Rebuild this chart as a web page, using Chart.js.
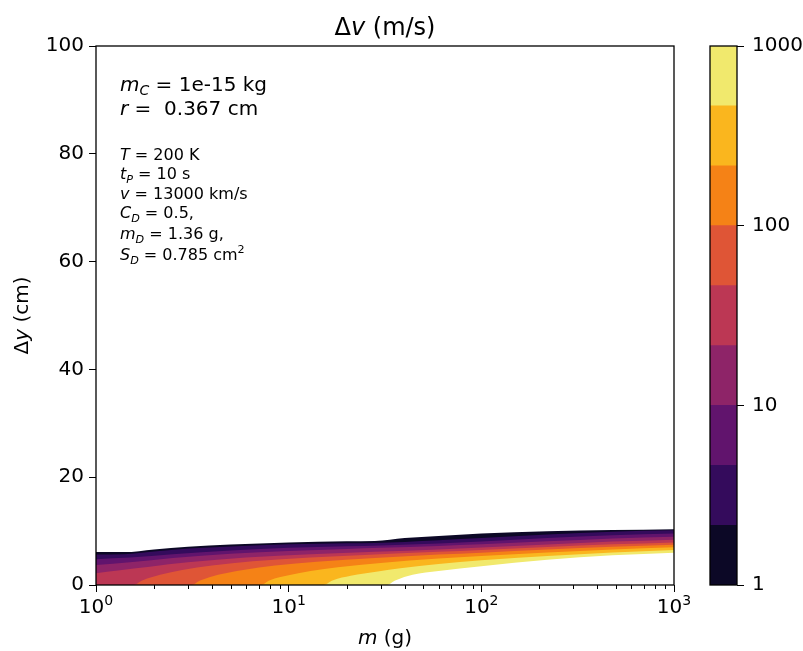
<!DOCTYPE html>
<html>
<head>
<meta charset="utf-8">
<script src="https://cdn.jsdelivr.net/npm/chart.js@4/dist/chart.umd.min.js"></script>
<style>
  body { margin: 0; background: #fff; }
  #wrap { position: relative; width: 803px; height: 651px; }
  #wrap canvas { position: absolute; top: 0; }
</style>
</head>
<body>
<div id="wrap">
  <canvas id="dvMap" width="700" height="651" style="left:0"></canvas>
  <canvas id="dvBar" width="103" height="651" style="left:700px"></canvas>
</div>
<script>
// contour levels of delta-v (m/s), three per decade
const levels = [1, 2.15, 4.64, 10, 21.5, 46.4, 100, 215, 464, 1000];
const bandColors = ['#0c0826', '#340b5c', '#61146d', '#8e2468', '#bc3754',
                    '#df5536', '#f58216', '#fab61e', '#f1e96d'];
const cbarTicks = [1, 10, 100, 1000];
const massTicks = [1, 10, 100, 1000];
const massExponents = ['0', '1', '2', '3'];

// contour lines: [m (g), dy (cm)] for each level
const dv1    = [[1,6.1],[1.4,6.1],[2,6.6],[3,7.1],[5,7.5],[10,7.9],[20,8.1],[28,8.15],[40,8.7],[60,9.1],[100,9.55],[220,9.95],[480,10.2],[1000,10.35]];
const dv2    = [[1,5.65],[1.4,5.7],[2,6.2],[3,6.75],[5,7.15],[10,7.55],[20,7.75],[28,7.8],[40,8.0],[60,8.3],[100,8.7],[220,9.35],[480,9.9],[1000,10.15]];
const dv5    = [[1,4.8],[1.5,5.1],[2.5,5.7],[5,6.4],[10,6.9],[20,7.2],[30,7.35],[60,7.7],[100,8.05],[220,8.7],[480,9.25],[1000,9.55]];
const dv10   = [[1,3.7],[1.5,4.2],[2.5,5.0],[5,5.8],[10,6.3],[20,6.7],[30,6.9],[60,7.25],[100,7.55],[220,8.1],[480,8.65],[1000,8.95]];
const dv22   = [[1,2.2],[1.3,2.7],[1.9,3.4],[3,4.2],[6,5.1],[13,5.7],[28,6.15],[60,6.6],[100,6.95],[220,7.5],[480,8.05],[1000,8.4]];
const dv46   = [[1,0],[1.55,0],[1.75,0.9],[2.15,1.9],[2.8,2.8],[4,3.6],[6.5,4.4],[13,5.1],[28,5.65],[60,6.15],[100,6.5],[220,7.05],[480,7.55],[1000,7.9]];
const dv100  = [[1,0],[3.1,0],[3.5,0.9],[4.3,1.9],[5.8,2.8],[8.5,3.6],[14,4.3],[28,5.0],[60,5.65],[100,6.0],[220,6.6],[480,7.1],[1000,7.45]];
const dv215  = [[1,0],[7.1,0],[8,0.9],[10,1.8],[13,2.6],[18,3.3],[30,4.1],[60,4.9],[100,5.4],[220,6.05],[480,6.6],[1000,7.0]];
const dv464  = [[1,0],[15,0],[17,0.9],[21,1.7],[29,2.5],[38,3.1],[60,3.9],[100,4.6],[220,5.4],[480,6.05],[1000,6.5]];
const dv1000 = [[1,0],[32,0],[36,0.9],[44,1.9],[60,2.6],[100,3.5],[220,4.7],[480,5.5],[1000,6.0]];

const contours = [dv1, dv2, dv5, dv10, dv22, dv46, dv100, dv215, dv464, dv1000];

const FAM = '"DejaVu Sans", sans-serif';

// draws a run of text pieces: '' plain, 'i' italic, 'isub' italic subscript, 'sup' superscript
function richText(ctx, runs, x, y, size, align) {
  const fontFor = k => {
    const small = k.includes('sub') || k.includes('sup');
    return (k.startsWith('i') ? 'italic ' : '') + (small ? size * 0.7 : size) + 'px ' + FAM;
  };
  let w = 0;
  for (const [t, k] of runs) { ctx.font = fontFor(k); w += ctx.measureText(t).width; }
  let cx = align === 'center' ? x - w / 2 : x;
  ctx.textAlign = 'left';
  ctx.textBaseline = 'alphabetic';
  ctx.fillStyle = '#000';
  for (const [t, k] of runs) {
    ctx.font = fontFor(k);
    let dy = 0;
    if (k.includes('sub')) dy = size * 0.22;
    if (k.includes('sup')) dy = -size * 0.42;
    ctx.fillText(t, cx, y + dy);
    cx += ctx.measureText(t).width;
  }
}

const notes = [
  { size: 20, y: 91,  runs: [['m','i'],['C','isub'],[' = 1e-15 kg','']] },
  { size: 20, y: 115, runs: [['r','i'],[' =  0.367 cm','']] },
  { size: 16, y: 159.5, runs: [['T','i'],[' = 200 K','']] },
  { size: 16, y: 179, runs: [['t','i'],['P','isub'],[' = 10 s','']] },
  { size: 16, y: 198.5, runs: [['v','i'],[' = 13000 km/s','']] },
  { size: 16, y: 218, runs: [['C','i'],['D','isub'],[' = 0.5,','']] },
  { size: 16, y: 239, runs: [['m','i'],['D','isub'],[' = 1.36 g,','']] },
  { size: 16, y: 260, runs: [['S','i'],['D','isub'],[' = 0.785 cm',''],['2','sup']] }
];

const mapDecor = {
  id: 'mapDecor',
  afterDatasetsDraw(chart) {
    const { ctx, chartArea: a } = chart;
    ctx.save();
    ctx.strokeStyle = '#000';
    ctx.lineWidth = 1.3;
    ctx.strokeRect(a.left, a.top, a.right - a.left, a.bottom - a.top);
    ctx.restore();
  },
  afterDraw(chart) {
    const { ctx, chartArea: a } = chart;
    const xs = chart.scales.x;
    ctx.save();
    // minor ticks on the log axis
    ctx.strokeStyle = '#000';
    ctx.lineWidth = 1;
    for (const d of [1, 10, 100]) {
      for (let k = 2; k <= 9; k++) {
        const px = Math.round(xs.getPixelForValue(k * d)) + 0.5;
        ctx.beginPath();
        ctx.moveTo(px, a.bottom);
        ctx.lineTo(px, a.bottom + 4);
        ctx.stroke();
      }
    }
    // power-of-ten labels with raised exponents
    massTicks.forEach((v, i) => {
      richText(ctx, [['10',''],[massExponents[i],'sup']], xs.getPixelForValue(v), 613, 20, 'center');
    });
    richText(ctx, [['\u0394',''],['v','i'],[' (m/s)','']], (a.left + a.right) / 2, 35, 24, 'center');
    richText(ctx, [['m','i'],[' (g)','']], (a.left + a.right) / 2, 644, 20, 'center');
    ctx.save();
    ctx.translate(28, (a.top + a.bottom) / 2);
    ctx.rotate(-Math.PI / 2);
    richText(ctx, [['\u0394',''],['y','i'],[' (cm)','']], 0, 0, 20, 'center');
    ctx.restore();
    for (const n of notes) richText(ctx, n.runs, 120, n.y, n.size, 'left');
    ctx.restore();
  }
};

// each band is filled down to zero from its upper contour; the lowest one paints white
const datasets = contours.map((c, i) => ({
  data: c.map(([m, dy]) => ({ x: m, y: dy })),
  backgroundColor: i < bandColors.length ? bandColors[i] : '#ffffff',
  borderWidth: 0,
  borderColor: 'rgba(0,0,0,0)',
  pointRadius: 0,
  fill: 'origin',
  cubicInterpolationMode: 'monotone',
  order: contours.length - i
}));

new Chart(document.getElementById('dvMap'), {
  type: 'line',
  data: { datasets },
  options: {
    responsive: false,
    animation: false,
    devicePixelRatio: 1,
    layout: { padding: { top: 46, right: 26, left: 0, bottom: 0 } },
    plugins: { legend: { display: false }, tooltip: { enabled: false } },
    scales: {
      x: {
        type: 'logarithmic',
        min: 1, max: 1000,
        afterBuildTicks: s => { s.ticks = massTicks.map(v => ({ value: v })); },
        afterFit: s => { s.height = 66; },
        ticks: { callback: () => '', font: { family: FAM, size: 20 }, color: '#000', maxRotation: 0 },
        grid: { drawOnChartArea: false, tickLength: 7, color: '#000' },
        border: { display: false }
      },
      y: {
        min: 0, max: 100,
        afterFit: s => { s.width = 96; },
        ticks: { stepSize: 20, font: { family: FAM, size: 20 }, color: '#000', padding: 5 },
        grid: { drawOnChartArea: false, tickLength: 7, color: '#000' },
        border: { display: false }
      }
    }
  },
  plugins: [mapDecor]
});

// colour bar: one floating bar per band on a log axis
const barDecor = {
  id: 'barDecor',
  afterDatasetsDraw(chart) {
    const { ctx, chartArea: a } = chart;
    ctx.save();
    ctx.strokeStyle = '#000';
    ctx.lineWidth = 1.3;
    ctx.strokeRect(a.left, a.top, a.right - a.left, a.bottom - a.top);
    ctx.restore();
  }
};

new Chart(document.getElementById('dvBar'), {
  type: 'bar',
  data: {
    labels: [''],
    datasets: bandColors.map((c, i) => ({
      data: [[levels[i], levels[i + 1]]],
      backgroundColor: c,
      borderWidth: 0,
      barPercentage: 1,
      categoryPercentage: 1,
      grouped: false
    }))
  },
  options: {
    responsive: false,
    animation: false,
    devicePixelRatio: 1,
    layout: { padding: { top: 46, left: 10, right: 0, bottom: 66 } },
    plugins: { legend: { display: false }, tooltip: { enabled: false } },
    scales: {
      x: { display: false },
      y: {
        type: 'logarithmic',
        position: 'right',
        min: 1, max: 1000,
        afterBuildTicks: s => { s.ticks = cbarTicks.map(v => ({ value: v })); },
        afterFit: s => { s.width = 66; },
        ticks: { callback: v => String(v), font: { family: FAM, size: 20 }, color: '#000', padding: 8 },
        grid: { drawOnChartArea: false, tickLength: 7, color: '#000' },
        border: { display: false }
      }
    }
  },
  plugins: [barDecor]
});
</script>
</body>
</html>
